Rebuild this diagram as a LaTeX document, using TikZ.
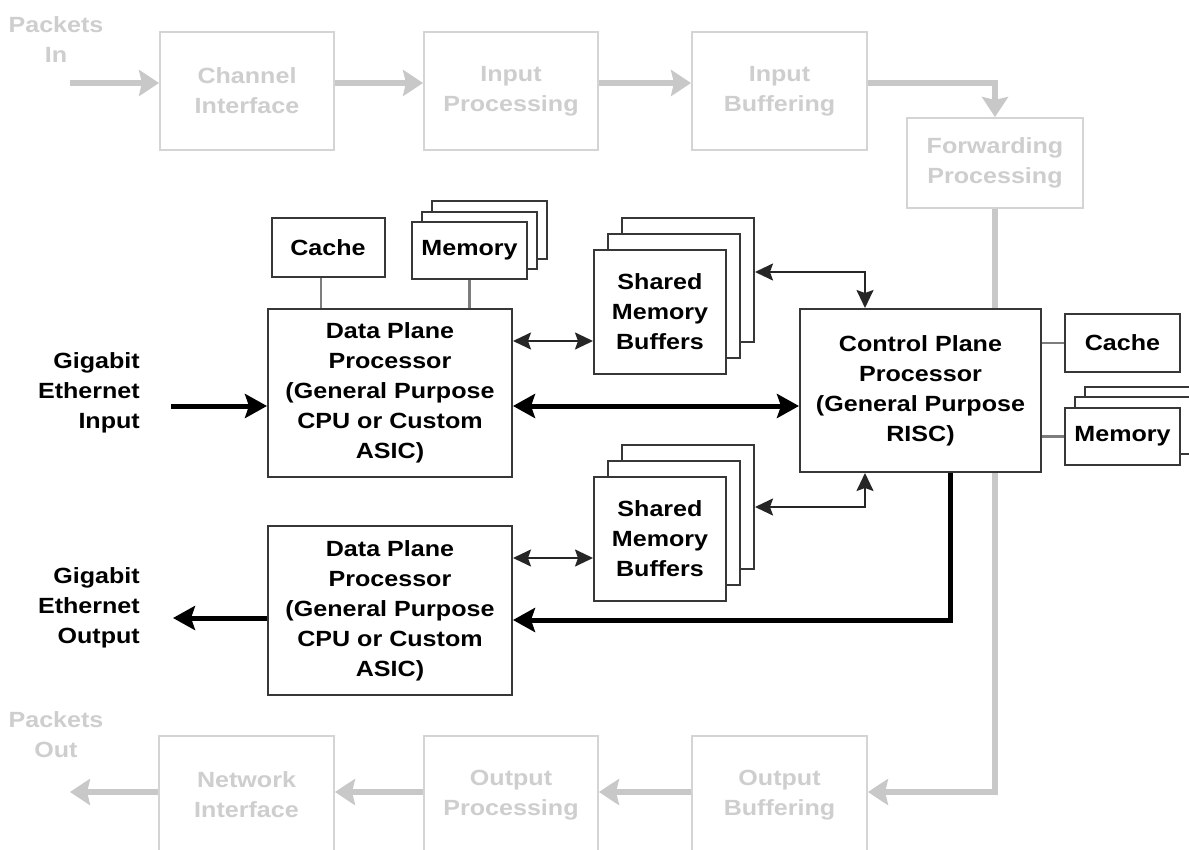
\documentclass[tikz,border=0pt]{standalone}
\usepackage{fontspec}
\newfontfamily\diagfont{Liberation Sans}[FakeStretch=1.14]
\usetikzlibrary{arrows.meta}

\definecolor{ghostline}{RGB}{212,212,212}
\definecolor{ghostarrow}{RGB}{200,200,200}
\definecolor{ghosttext}{RGB}{206,206,206}
\definecolor{boxline}{RGB}{55,55,55}
\definecolor{linkline}{RGB}{125,125,125}

\tikzset{
  lbl/.style={font=\diagfont\bfseries\fontsize{22}{30}\selectfont, align=center, inner sep=0pt},
  ghostbox/.style={lbl, draw=ghostline, line width=2pt, text=ghosttext, fill=white,
                   minimum width=174pt, minimum height=118pt},
  ghostlbl/.style={lbl, text=ghosttext},
  ghostflow/.style={draw=ghostarrow, line width=6pt, -{Stealth[length=20pt,width=26pt,inset=3pt]}},
  unit/.style={lbl, draw=boxline, line width=2pt, fill=white, text=black},
  layer/.style={draw=boxline, line width=2pt, fill=white, inner sep=0pt},
  link/.style={draw=linkline, line width=2.5pt},
  bus/.style={draw=black, line width=5pt, -{Stealth[length=22pt,width=24pt,inset=4pt]}},
  busboth/.style={draw=black, line width=5pt,
                  {Stealth[length=22pt,width=24pt,inset=4pt]}-{Stealth[length=22pt,width=24pt,inset=4pt]}},
  ptr/.style={draw=black!85, line width=2pt,
              {Stealth[length=18pt,width=17pt,inset=3pt]}-{Stealth[length=18pt,width=17pt,inset=3pt]}},
}

\begin{document}
\begin{tikzpicture}[x=1pt,y=-1pt]
  \clip (0,0) rectangle (1189,850);
  \fill[white] (0,0) rectangle (1189,850);

  % ---- generic packet pipeline (greyed out) ----
  \coordinate (rowT) at (0,83);
  \coordinate (rowB) at (0,792);
  \coordinate (inStart) at (70,83);
  \coordinate (outEnd) at (70,792);

  \node[ghostlbl] (pin) at (56,40) {Packets\\In};
  \node[ghostbox] (chan) at (247,91) {Channel\\Interface};
  \node[ghostbox] (inproc) at (511,91) {Input\\Processing};
  \node[ghostbox, minimum width=175pt] (inbuf) at (779.5,91) {Input\\Buffering};
  \node[ghostbox, minimum width=176pt, minimum height=90pt] (fwd) at (995,163) {Forwarding\\Processing};

  \node[ghostlbl] (pout) at (56,735) {Packets\\Out};
  \node[ghostbox, minimum width=175pt] (netif) at (246.5,795) {Network\\Interface};
  \node[ghostbox] (outproc) at (511,795) {Output\\Processing};
  \node[ghostbox, minimum width=175pt] (outbuf) at (779.5,795) {Output\\Buffering};

  \draw[ghostflow] (inStart) -- (chan.west |- rowT);
  \draw[ghostflow] (chan.east |- rowT) -- (inproc.west |- rowT);
  \draw[ghostflow] (inproc.east |- rowT) -- (inbuf.west |- rowT);
  \draw[ghostflow] (inbuf.east |- rowT) -| (fwd.north);
  \draw[ghostflow] (fwd.south) |- (outbuf.east |- rowB);
  \draw[ghostflow] (outbuf.west |- rowB) -- (outproc.east |- rowB);
  \draw[ghostflow] (outproc.west |- rowB) -- (netif.east |- rowB);
  \draw[ghostflow] (netif.west |- rowB) -- (outEnd);

  % ---- ingress data plane processor with its cache and memory ----
  \node[unit, minimum width=113pt, minimum height=59pt] (cacheL) at (328,247.5) {Cache};
  \node[layer, minimum width=115pt, minimum height=58pt] (memL3) at (489.5,230) {};
  \node[layer, minimum width=115pt, minimum height=57pt] (memL2) at (479.5,240.5) {};
  \node[unit, minimum width=115pt, minimum height=57pt] (memL1) at (469.5,250.5) {Memory};

  \node[unit, minimum width=244pt, minimum height=168pt] (dp1) at (390,393)
    {Data Plane\\Processor\\(General Purpose\\CPU or Custom\\ASIC)};

  \draw[link] ([xshift=-7pt]cacheL.south) -- ([xshift=-7pt]cacheL.south |- dp1.north);
  \draw[link] (memL1.south) -- (memL1.south |- dp1.north);

  \node[lbl, align=right, anchor=east] (gin) at (140,393) {Gigabit\\Ethernet\\Input};
  \coordinate (ginStart) at (171,406);
  \draw[bus] (ginStart) -- (dp1.west |- ginStart);

  % ---- shared memory buffers, upper stack ----
  \node[layer, minimum width=132pt, minimum height=124pt] (smbA3) at (688,280) {};
  \node[layer, minimum width=132pt, minimum height=124pt] (smbA2) at (674,296) {};
  \node[unit, minimum width=132pt, minimum height=124pt] (smbA1) at (660,312)
    {Shared\\Memory\\Buffers};

  % ---- control plane processor with its cache and memory ----
  \node[unit, minimum width=241pt, minimum height=163pt] (ctrl) at (920.5,390.5)
    {Control Plane\\Processor\\(General Purpose\\RISC)};

  \node[unit, minimum width=115pt, minimum height=58pt] (cacheR) at (1122.5,343) {Cache};
  \node[layer, minimum width=115pt, minimum height=57pt] (memR3) at (1142.5,415.5) {};
  \node[layer, minimum width=115pt, minimum height=57pt] (memR2) at (1132.5,425.5) {};
  \node[unit, minimum width=115pt, minimum height=57pt] (memR1) at (1122.5,436.5) {Memory};

  \draw[link] (ctrl.east |- cacheR.west) -- (cacheR.west);
  \draw[link] (ctrl.east |- memR1.west) -- (memR1.west);

  % ---- shared memory buffers, lower stack ----
  \node[layer, minimum width=132pt, minimum height=124pt] (smbB3) at (688,507) {};
  \node[layer, minimum width=132pt, minimum height=124pt] (smbB2) at (674,523) {};
  \node[unit, minimum width=132pt, minimum height=124pt] (smbB1) at (660,539)
    {Shared\\Memory\\Buffers};

  % ---- egress data plane processor ----
  \node[unit, minimum width=244pt, minimum height=169pt] (dp2) at (390,610.5)
    {Data Plane\\Processor\\(General Purpose\\CPU or Custom\\ASIC)};

  \node[lbl, align=right, anchor=east] (gout) at (140,608) {Gigabit\\Ethernet\\Output};
  \coordinate (goutEnd) at (173,618);
  \draw[bus] (dp2.west |- goutEnd) -- (goutEnd);

  % ---- links between processors and buffers ----
  \coordinate (dsA) at (0,341);
  \coordinate (dsB) at (0,558);
  \draw[ptr] (dp1.east |- dsA) -- (smbA1.west |- dsA);
  \draw[ptr] (dp2.east |- dsB) -- (smbB1.west |- dsB);

  \coordinate (scA) at (865,272);
  \coordinate (scB) at (865,507);
  \draw[ptr] (smbA3.east |- scA) -| (ctrl.north -| scA);
  \draw[ptr] (smbB3.east |- scB) -| (ctrl.south -| scB);

  \draw[busboth] (dp1.east |- ginStart) -- (ctrl.west |- ginStart);

  \coordinate (cd) at (950,620);
  \draw[bus] (ctrl.south -| cd) |- (dp2.east |- cd);
\end{tikzpicture}
\end{document}
